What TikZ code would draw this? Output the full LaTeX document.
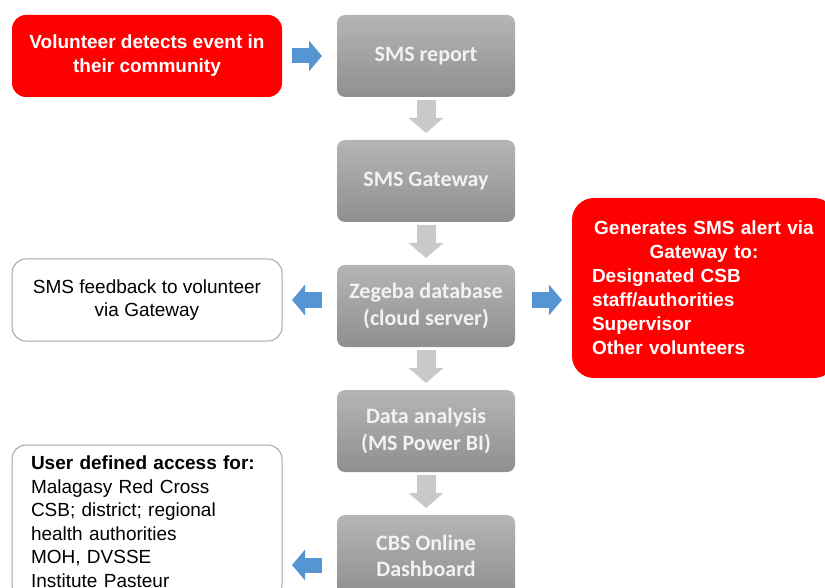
\documentclass[tikz,border=0pt]{standalone}
\usepackage{fontspec}
\setmainfont{Liberation Sans}
\newfontfamily\carlito{Carlito}
\usetikzlibrary{arrows.meta,positioning}
\definecolor{alertred}{HTML}{FF0000}
\definecolor{flowblue}{HTML}{5596D2}
\definecolor{gtop}{HTML}{B5B5B5}
\definecolor{gbot}{HTML}{8F8F8F}
\definecolor{dgray}{HTML}{C9C9C9}
\definecolor{wline}{HTML}{A6A6A6}

\begin{document}
\begin{tikzpicture}[x=1pt,y=-1pt,
  gbox/.style={rounded corners=8pt,top color=gtop,bottom color=gbot,text=white!90!gray,align=center,
    minimum width=178pt,minimum height=82pt,outer sep=0pt,font=\carlito\bfseries\fontsize{22}{26.5}\selectfont},
  redbox/.style={rounded corners=14pt,fill=alertred,text=white,align=center,minimum width=270pt,
    minimum height=82pt,outer sep=0pt,font=\bfseries\fontsize{19}{24}\selectfont},
  wbox/.style={draw=wline,line width=1pt,rounded corners=14pt,fill=white,minimum width=270pt,
    outer sep=0pt,font=\fontsize{19}{23.5}\selectfont},
  barr/.style={draw=flowblue,line width=15pt,-{Triangle[width=30pt,length=13pt]}},
  darr/.style={draw=dgray,line width=19pt,-{Triangle[width=34pt,length=15pt]},shorten <=3pt,shorten >=7pt}]
\useasboundingbox (0,0) rectangle (825,588);
\clip (0,0) rectangle (825,588);
% main column
\node[gbox] (rep) at (426,56) {SMS report};
\node[gbox,below=43pt of rep] (gw) {SMS Gateway};
\node[gbox,below=43pt of gw] (db) {Zegeba database\\(cloud server)};
\node[gbox,below=43pt of db] (bi) {Data analysis\\(MS Power BI)};
\node[gbox,below=43pt of bi] (dash) {CBS Online\\Dashboard};
% side boxes
\node[redbox,left=55pt of rep] (vol) {Volunteer detects event in\\their community};
\node[wbox,align=center,minimum height=82pt] (fb) at (147,300) {SMS feedback to volunteer\\via Gateway};
\node[redbox,rounded corners=22pt,minimum width=264pt,minimum height=180pt,text width=224pt,align=left]
  (alert) at (704,288) {\makebox[224pt]{Generates SMS alert via}\\\makebox[224pt]{Gateway to:}\\
  Designated CSB\\staff/authorities\\Supervisor\\Other volunteers};
\node[wbox,anchor=north west,align=left,text width=232pt,inner xsep=19pt,inner ysep=11pt] (usr) at (12,445)
  {\textbf{User defined access for:}\\Malagasy Red Cross\\CSB; district; regional\\health authorities\\MOH, DVSSE\\Institute Pasteur};
% arrows
\draw[barr,shorten <=10pt,shorten >=15pt] (vol) -- (rep);
\draw[darr] (rep) -- (gw);
\draw[darr] (gw) -- (db);
\draw[darr] (db) -- (bi);
\draw[darr] (bi) -- (dash);
\draw[barr,shorten <=15pt,shorten >=10pt] (fb.east -| db.west) -- (fb.east);
\draw[barr,shorten <=17pt,shorten >=10pt] ([yshift=6pt]db.east) -- ([yshift=6pt]db.east -| alert.west);
\draw[barr,shorten <=15pt,shorten >=10pt] ([yshift=-9pt]dash.west) -- ([yshift=-9pt]dash.west -| usr.east);
\end{tikzpicture}
\end{document}
